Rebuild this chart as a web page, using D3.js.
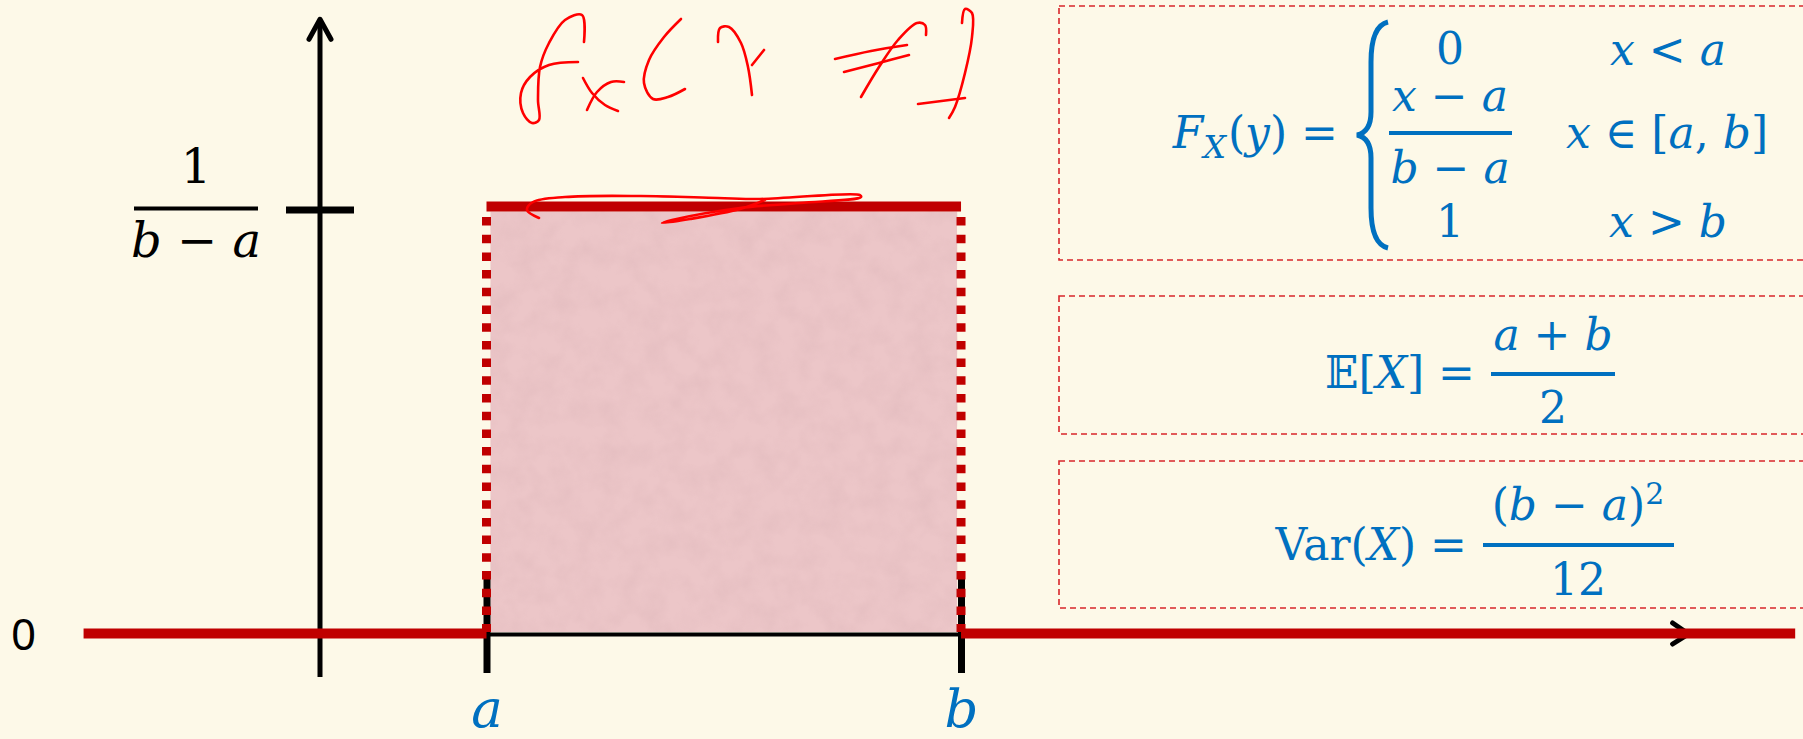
<!DOCTYPE html>
<html>
<head>
<meta charset="utf-8">
<script src="https://cdn.jsdelivr.net/npm/d3@7"></script>
<style>
  html, body { margin: 0; padding: 0; background: #fdf9e8; }
  svg { display: block; }
</style>
</head>
<body>
<div id="chart"></div>
<script>
// uniform density: breakpoints on x and the level on each piece (1 = 1/(b-a))
const pdfBreaks = [-1.42, 1, 3.85, 8.86];
const pdfLevels = [0, 1, 0];
const tickValues = [1, 3.85];
const tickLabels = ["a", "b"];
const yTickValues = [1];
const xAxisEnd = 8.22;
const yAxisRange = [-0.106, 1.44];

const width = 1803, height = 739;
const red = "#c00000", blue = "#0070c0", ink = "#000";
const mathFont = "'DejaVu Serif', serif";

const svg = d3.select("#chart").append("svg")
  .attr("width", width)
  .attr("height", height);

svg.append("rect").attr("width", width).attr("height", height).attr("fill", "#fdf9e8");

// --- Scales ---
const x = d3.scaleLinear().domain([0, 10]).range([320, 1985]);
const y = d3.scaleLinear().domain([0, 1]).range([632, 206.5]);

// --- texture for the shaded area ---
const defs = svg.append("defs");
const filt = defs.append("filter").attr("id", "paper")
  .attr("x", 0).attr("y", 0).attr("width", 1).attr("height", 1);
filt.append("feTurbulence")
  .attr("type", "fractalNoise").attr("baseFrequency", 0.045)
  .attr("numOctaves", 3).attr("seed", 7).attr("result", "n");
filt.append("feColorMatrix").attr("in", "n").attr("type", "matrix")
  .attr("values", "0 0 0 0 0.70  0 0 0 0 0.45  0 0 0 0 0.47  1.1 0 0 0 -0.38");

const area = pdfLevels.map((v, i) => ({ x0: pdfBreaks[i], x1: pdfBreaks[i + 1], v }))
  .filter(d => d.v > 0);

svg.selectAll(".fill").data(area).enter().append("rect")
  .attr("x", d => x(d.x0) + 4)
  .attr("y", d => y(d.v) + 5)
  .attr("width", d => x(d.x1) - x(d.x0) - 8)
  .attr("height", d => y(0) - y(d.v) - 5)
  .attr("fill", "#ecc6c8");
svg.selectAll(".tex").data(area).enter().append("rect")
  .attr("x", d => x(d.x0) + 4)
  .attr("y", d => y(d.v) + 5)
  .attr("width", d => x(d.x1) - x(d.x0) - 8)
  .attr("height", d => y(0) - y(d.v) - 5)
  .attr("filter", "url(#paper)")
  .attr("opacity", 0.55);

// --- x axis (black, starts at a) ---
svg.append("line")
  .attr("x1", x(tickValues[0])).attr("x2", x(xAxisEnd))
  .attr("y1", y(0) + 2.5).attr("y2", y(0) + 2.5)
  .attr("stroke", ink).attr("stroke-width", 4);
svg.append("path")
  .attr("d", `M${x(xAxisEnd) - 16},${y(0) - 9} L${x(xAxisEnd)},${y(0) + 2} L${x(xAxisEnd) - 16},${y(0) + 12}`)
  .attr("fill", "none").attr("stroke", ink).attr("stroke-width", 5)
  .attr("stroke-linecap", "round").attr("stroke-linejoin", "round");

const xAxis = svg.append("g")
  .attr("transform", `translate(0,${y(0)})`)
  .call(d3.axisBottom(x).tickValues(tickValues).tickFormat((d, i) => tickLabels[i]).tickSize(41));
xAxis.select(".domain").remove();
xAxis.selectAll(".tick line")
  .attr("y1", -55).attr("stroke", ink).attr("stroke-width", 7);
xAxis.selectAll(".tick text")
  .attr("y", 95).attr("dy", 0)
  .attr("fill", blue)
  .style("font-family", mathFont)
  .style("font-style", "italic")
  .style("font-size", "53px");

// --- y axis ---
svg.append("line")
  .attr("x1", x(0)).attr("x2", x(0))
  .attr("y1", y(yAxisRange[0])).attr("y2", y(yAxisRange[1]) + 2)
  .attr("stroke", ink).attr("stroke-width", 5);
svg.append("path")
  .attr("d", `M${x(0) - 11},${y(yAxisRange[1]) + 20} L${x(0)},${y(yAxisRange[1])} L${x(0) + 11},${y(yAxisRange[1]) + 20}`)
  .attr("fill", "none").attr("stroke", ink).attr("stroke-width", 5)
  .attr("stroke-linecap", "round").attr("stroke-linejoin", "round");

const yAxis = svg.append("g")
  .attr("transform", `translate(${x(0)},0)`)
  .call(d3.axisLeft(y).tickValues(yTickValues).tickSize(34).tickFormat(""));
yAxis.select(".domain").remove();
yAxis.selectAll(".tick line")
  .attr("x2", 34).attr("x1", -34)
  .attr("stroke", ink).attr("stroke-width", 7)
  .attr("transform", "translate(0,3)");

// fraction label 1/(b-a)
const fr = svg.append("g").attr("transform", `translate(196,${y(1)})`)
  .attr("fill", ink).style("font-family", mathFont).style("font-size", "48px");
fr.append("text").attr("text-anchor", "middle").attr("y", -24).text("1");
fr.append("rect").attr("x", -62).attr("y", 0).attr("width", 124).attr("height", 4);
const den = fr.append("text").attr("text-anchor", "middle").attr("y", 50);
den.append("tspan").style("font-style", "italic").text("b");
den.append("tspan").text(" − ");
den.append("tspan").style("font-style", "italic").text("a");

// "0" on the left
svg.append("text")
  .attr("x", 11).attr("y", y(0) + 18)
  .attr("fill", ink)
  .style("font-family", "'Noto Sans', sans-serif")
  .style("font-size", "44px")
  .text("0");

// --- density (red) ---
const steps = pdfLevels.map((v, i) => ({ x0: pdfBreaks[i], x1: pdfBreaks[i + 1], v }));
svg.selectAll(".pdf").data(steps).enter().append("line")
  .attr("x1", d => x(d.x0)).attr("x2", d => x(d.x1))
  .attr("y1", d => y(d.v) + (d.v === 0 ? 1.5 : 0))
  .attr("y2", d => y(d.v) + (d.v === 0 ? 1.5 : 0))
  .attr("stroke", red).attr("stroke-width", 10);

// dotted verticals at the jumps
svg.selectAll(".jump").data(tickValues).enter().append("line")
  .attr("x1", d => x(d)).attr("x2", d => x(d))
  .attr("y1", y(1) + 10.5).attr("y2", y(0))
  .attr("stroke", red).attr("stroke-width", 9)
  .attr("stroke-dasharray", "8.5 9.2");

// --- formula boxes ---
const boxes = [[6, 260], [296, 434], [461, 608]];
svg.selectAll(".box").data(boxes).enter().append("rect")
  .attr("x", 1059).attr("y", d => d[0])
  .attr("width", 800).attr("height", d => d[1] - d[0])
  .attr("fill", "none").attr("stroke", "#d8262a")
  .attr("stroke-width", 1.6).attr("stroke-dasharray", "6 4");

const f = svg.append("g").attr("fill", blue)
  .style("font-family", mathFont).style("font-size", "44px");

function mtext(parts, xx, yy, anchor) {
  const t = f.append("text").attr("x", xx).attr("y", yy).attr("text-anchor", anchor || "middle");
  parts.forEach(p => {
    const s = t.append("tspan").text(p[0]);
    if (p[1] === "i") s.style("font-style", "italic");
    if (p[1] === "sub") s.style("font-style", "italic").attr("baseline-shift", "-30%").style("font-size", "32px");
    if (p[1] === "sup") s.attr("baseline-shift", "55%").style("font-size", "30px");
    if (p[1] === "after") s.attr("dx", 2);
  });
  return t;
}

// F_X(y) piecewise
mtext([["F", "i"], ["X", "sub"], ["(", "after"], ["y", "i"], [") ="]], 1338, 148, "end");
f.append("path")
  .attr("d", "M1388,22 Q1371,26 1371,62 L1371,112 Q1371,132 1357,135 Q1371,138 1371,158 L1371,208 Q1371,244 1388,248")
  .attr("fill", "none").attr("stroke", blue).attr("stroke-width", 5);
mtext([["0"]], 1450, 64);
mtext([["x", "i"], [" − "], ["a", "i"]], 1450, 111);
f.append("rect").attr("x", 1389).attr("y", 131).attr("width", 123).attr("height", 4);
mtext([["b", "i"], [" − "], ["a", "i"]], 1450, 183);
mtext([["1"]], 1450, 237);
mtext([["x", "i"], [" < "], ["a", "i"]], 1668, 65);
mtext([["x", "i"], [" ∈ ["], ["a", "i"], [", "], ["b", "i"], ["]"]], 1667, 148);
mtext([["x", "i"], [" > "], ["b", "i"]], 1668, 237);

// E[X]
mtext([["𝔼["], ["X", "i"], ["] ="]], 1475, 388, "end");
mtext([["a", "i"], [" + "], ["b", "i"]], 1553, 350);
f.append("rect").attr("x", 1491).attr("y", 372).attr("width", 124).attr("height", 4);
mtext([["2"]], 1553, 423);

// Var(X)
mtext([["Var("], ["X", "i"], [") ="]], 1467, 560, "end");
mtext([["("], ["b", "i"], [" − "], ["a", "i"], [")"], ["2", "sup"]], 1578, 520);
f.append("rect").attr("x", 1483).attr("y", 543).attr("width", 191).attr("height", 4);
mtext([["12"]], 1578, 595);

// --- handwritten annotation (pen strokes) ---
const pen = [
  [[584,42],[582,15],[565,20],[549,43],[540,67],[538,100],[539,120],[532,123],[523,113],[521,93],[530,77],[549,65],[578,62]],
  [[583,78],[592,93],[605,105],[618,111]],
  [[624,82],[611,82],[597,92],[587,110]],
  [[681,19],[664,37],[649,60],[644,83],[653,99],[668,97],[685,89]],
  [[718,42],[720,28],[729,27],[741,43],[748,67],[752,95]],
  [[752,65],[764,50]],
  [[835,59],[871,51],[907,45]],
  [[844,72],[879,63],[909,55]],
  [[861,97],[879,67],[898,40],[917,23],[925,25],[926,35]],
  [[962,23],[965,9],[972,13],[972,37],[965,73],[955,107],[949,118]],
  [[918,104],[965,98]],
  [[539,218],[527,210],[533,202],[565,197],[641,196],[718,198],[760,199],[860,195],[861,197],[800,203],[740,208],[672,220],[662,223],[690,219],[740,209],[765,200]]
];
const penLine = d3.line().curve(d3.curveCatmullRom.alpha(0.5));
svg.selectAll(".pen").data(pen).enter().append("path")
  .attr("d", penLine)
  .attr("fill", "none").attr("stroke", "#ff0000")
  .attr("stroke-width", 2.6).attr("stroke-linecap", "round").attr("stroke-linejoin", "round");
</script>
</body>
</html>
